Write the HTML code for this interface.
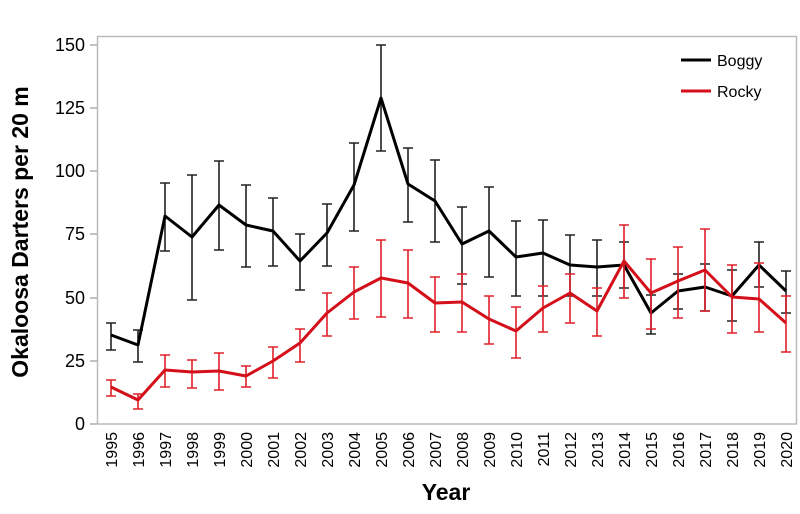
<!DOCTYPE html>
<html><head><meta charset="utf-8"><style>
body{margin:0;background:#fff}
svg{display:block;font-family:"Liberation Sans",sans-serif}
</style></head><body>
<svg id="s" width="800" height="514" xmlns="http://www.w3.org/2000/svg">
<rect x="97.5" y="36.5" width="699" height="387.5" fill="none" stroke="#bbb" stroke-width="1.5"/>
<g font-size="18" text-anchor="end" fill="#000">
<text x="85" y="51">150</text><text x="85" y="177">100</text><text x="85" y="114">125</text>
<text x="85" y="240">75</text><text x="85" y="304">50</text><text x="85" y="367">25</text><text x="85" y="430">0</text>
</g>
<g stroke="#999" stroke-width="1.2">
<line x1="90" y1="45" x2="97" y2="45"/><line x1="90" y1="108" x2="97" y2="108"/><line x1="90" y1="171" x2="97" y2="171"/>
<line x1="90" y1="234" x2="97" y2="234"/><line x1="90" y1="298" x2="97" y2="298"/><line x1="90" y1="361" x2="97" y2="361"/><line x1="90" y1="424" x2="97" y2="424"/>
</g>
<text x="0" y="0" font-size="23" font-weight="bold" text-anchor="middle" transform="translate(28,232) rotate(-90)">Okaloosa Darters per 20 m</text>
<text x="446" y="500" font-size="23" font-weight="bold" text-anchor="middle">Year</text>
<g id="xl" font-size="16"></g>
<g id="data"></g>
<line x1="681" y1="60" x2="711" y2="60" stroke="#000" stroke-width="3"/>
<text x="717" y="66" font-size="16">Boggy</text>
<line x1="681" y1="91" x2="711" y2="91" stroke="#d40f1a" stroke-width="3"/>
<text x="717" y="97" font-size="16">Rocky</text>
</svg>
<script>
var B=[[335,323,350],[345,330,362],[216,183,251],[237,175,300],[205,161,250],[225,185,267],[231,198,266],[261,234,290],[233,204,266],[185,143,231],[98,45,151],[184,148,222],[201,160,242],[244,207,284],[231,187,277],[257,221,296],[253,220,296],[265,235,296],[267,240,296],[265,242,288],[313,295,334],[291,274,309],[287,264,311],[296,270,321],[265,242,287],[291,271,313]];
var R=[[387,380,396],[400,394,409],[370,355,387],[372,360,388],[371,353,390],[376,366,387],[361,347,378],[343,329,362],[313,293,336],[292,267,319],[278,240,317],[283,250,318],[303,277,332],[302,274,332],[319,296,344],[331,307,358],[308,286,332],[293,274,323],[311,288,336],[261,225,298],[293,259,329],[281,247,318],[270,229,311],[297,265,333],[299,263,332],[323,296,352]];
function X(i){return 111+27*i}
var h="";
function ser(d,c,ec){var p="";d.forEach(function(v,i){var x=X(i);p+=(i?"L":"M")+x+" "+v[0];
h+='<path d="M'+x+' '+v[1]+'V'+v[2]+'M'+(x-5)+' '+v[1]+'H'+(x+5)+'M'+(x-5)+' '+v[2]+'H'+(x+5)+'" stroke="'+ec+'" stroke-width="1.6" fill="none"/>';});
h+='<path d="'+p+'" stroke="'+c+'" stroke-width="3" fill="none" stroke-linejoin="round"/>';}
ser(B,"#000","#222");ser(R,"#d40f1a","#e0202a");
document.getElementById("data").innerHTML=h;
var t="";for(var i=0;i<26;i++){var x=X(i)+6;t+='<text text-anchor="end" transform="translate('+x+',432) rotate(-90)">'+(1995+i)+'</text>';}
document.getElementById("xl").innerHTML=t;
</script>
</body></html>
